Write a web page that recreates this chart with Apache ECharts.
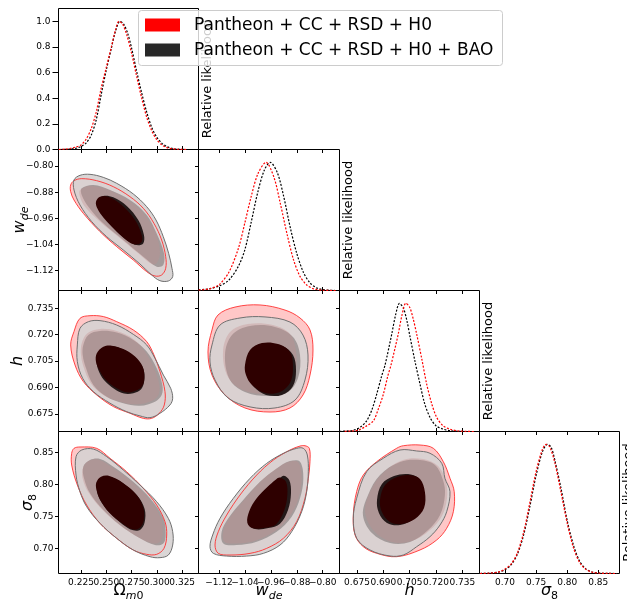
<!DOCTYPE html>
<html>
<head>
<meta charset="utf-8">
<script src="https://cdn.jsdelivr.net/npm/echarts@6/dist/echarts.min.js"></script>
<style>
  html, body { margin: 0; padding: 0; background: #ffffff; }
  #chart { width: 627px; height: 604px; }
</style>
</head>
<body>
<div id="chart"></div>
<script>
// ---------- tick values ----------
const omegaTicks = [0.225, 0.250, 0.275, 0.300, 0.325];
const wdeTicks = [-1.12, -1.04, -0.96, -0.88, -0.80];
const hTicks = [0.675, 0.690, 0.705, 0.720, 0.735];
const sigmaTicks = [0.70, 0.75, 0.80, 0.85];
const likeTicks = [0.0, 0.2, 0.4, 0.6, 0.8, 1.0];

// ---------- dataset names ----------
const nameRed = 'Pantheon + CC + RSD + H0';
const nameBlack = 'Pantheon + CC + RSD + H0 + BAO';

// ---------- 1D marginal likelihoods [value, relative likelihood] ----------
const omRed = [[0.203,0],[0.210,0.004],[0.215,0.01],[0.220,0.02],[0.225,0.035],[0.230,0.08],[0.235,0.16],[0.240,0.29],[0.245,0.48],[0.250,0.64],[0.255,0.80],[0.259,0.93],[0.2625,1.0],[0.266,0.98],[0.270,0.90],[0.275,0.75],[0.280,0.57],[0.285,0.40],[0.290,0.25],[0.295,0.145],[0.300,0.075],[0.305,0.035],[0.310,0.015],[0.315,0.006],[0.320,0.002],[0.330,0]];
const omBlack = [[0.205,0],[0.212,0.002],[0.218,0.007],[0.222,0.014],[0.226,0.028],[0.230,0.05],[0.235,0.11],[0.240,0.23],[0.245,0.43],[0.250,0.62],[0.255,0.79],[0.259,0.92],[0.2635,1.0],[0.267,0.98],[0.271,0.91],[0.275,0.79],[0.280,0.61],[0.285,0.44],[0.290,0.29],[0.295,0.17],[0.300,0.095],[0.305,0.048],[0.310,0.022],[0.315,0.009],[0.320,0.003],[0.328,0]];
const wRed = [[-1.183,0.004],[-1.15,0.013],[-1.12,0.045],[-1.09,0.14],[-1.06,0.33],[-1.04,0.53],[-1.02,0.74],[-1.00,0.91],[-0.975,1.0],[-0.95,0.88],[-0.93,0.67],[-0.91,0.44],[-0.89,0.24],[-0.87,0.11],[-0.85,0.045],[-0.83,0.015],[-0.80,0.002],[-0.76,0]];
const wBlack = [[-1.183,0.005],[-1.15,0.013],[-1.12,0.035],[-1.09,0.08],[-1.06,0.19],[-1.04,0.32],[-1.02,0.54],[-1.00,0.77],[-0.98,0.94],[-0.962,1.0],[-0.94,0.92],[-0.92,0.73],[-0.90,0.49],[-0.88,0.29],[-0.86,0.145],[-0.84,0.062],[-0.82,0.022],[-0.80,0.007],[-0.76,0]];
const hRed = [[0.668,0.001],[0.672,0.004],[0.6757,0.01],[0.680,0.04],[0.6843,0.083],[0.687,0.17],[0.690,0.29],[0.6925,0.43],[0.6944,0.52],[0.6985,0.76],[0.7005,0.9],[0.7028,1.0],[0.705,0.97],[0.707,0.88],[0.709,0.76],[0.712,0.56],[0.7147,0.37],[0.7175,0.22],[0.7204,0.11],[0.724,0.045],[0.728,0.018],[0.732,0.006],[0.737,0.001],[0.742,0]];
const hBlack = [[0.665,0.001],[0.669,0.004],[0.673,0.01],[0.677,0.035],[0.6805,0.083],[0.6835,0.17],[0.6862,0.29],[0.689,0.43],[0.691,0.52],[0.6948,0.76],[0.697,0.91],[0.6992,1.0],[0.7015,0.96],[0.7035,0.86],[0.7052,0.74],[0.708,0.55],[0.7109,0.37],[0.7135,0.22],[0.7166,0.11],[0.720,0.045],[0.7242,0.018],[0.728,0.006],[0.733,0.001],[0.738,0]];
const sRed = [[0.66,0],[0.675,0.003],[0.69,0.012],[0.70,0.035],[0.71,0.075],[0.72,0.16],[0.73,0.32],[0.74,0.55],[0.75,0.79],[0.76,0.96],[0.766,1.0],[0.772,0.98],[0.78,0.86],[0.79,0.63],[0.80,0.39],[0.81,0.20],[0.82,0.085],[0.83,0.032],[0.84,0.011],[0.85,0.003],[0.865,0.0005],[0.88,0]];
const sBlack = [[0.66,0],[0.675,0.003],[0.69,0.011],[0.70,0.03],[0.71,0.068],[0.72,0.15],[0.73,0.30],[0.74,0.52],[0.75,0.76],[0.76,0.94],[0.768,1.0],[0.774,0.98],[0.78,0.88],[0.79,0.66],[0.80,0.41],[0.81,0.22],[0.82,0.095],[0.83,0.036],[0.84,0.012],[0.85,0.004],[0.865,0.0008],[0.88,0]];

// ---------- 2D credible regions, outline vertices [x, y] ----------
// Omega_m0 vs w_de
const omW_redOuter = [[0.2148,-0.8581],[0.2181,-0.8449],[0.2257,-0.8387],[0.2405,-0.8449],[0.2569,-0.8632],[0.2734,-0.8938],[0.2866,-0.9295],[0.2971,-0.9753],[0.3047,-1.0263],[0.3087,-1.0773],[0.3087,-1.1129],[0.3047,-1.1333],[0.2981,-1.1364],[0.2899,-1.1231],[0.2767,-1.0875],[0.2603,-1.0467],[0.2438,-1.0008],[0.2273,-0.9448],[0.2181,-0.9040],[0.2148,-0.8785]];
const omW_blkOuter = [[0.2181,-0.8428],[0.2240,-0.8285],[0.2339,-0.8255],[0.2470,-0.8347],[0.2603,-0.8530],[0.2767,-0.8856],[0.2899,-0.9244],[0.2991,-0.9651],[0.3063,-1.0161],[0.3116,-1.0671],[0.3149,-1.1129],[0.3156,-1.1384],[0.3113,-1.1517],[0.3030,-1.1507],[0.2948,-1.1333],[0.2833,-1.0997],[0.2668,-1.0569],[0.2504,-1.0161],[0.2356,-0.9702],[0.2240,-0.9193],[0.2181,-0.8734]];
const omW_redMid = [[0.2240,-0.8734],[0.2339,-0.8612],[0.2504,-0.8714],[0.2702,-0.9019],[0.2866,-0.9448],[0.2981,-1.0008],[0.3030,-1.0620],[0.2997,-1.0977],[0.2948,-1.0997],[0.2816,-1.0671],[0.2619,-1.0161],[0.2438,-0.9702],[0.2289,-0.9244],[0.2240,-0.8938]];
const omW_blkMid = [[0.2257,-0.8683],[0.2372,-0.8581],[0.2537,-0.8734],[0.2734,-0.9040],[0.2899,-0.9498],[0.2997,-1.0059],[0.3070,-1.0671],[0.3063,-1.1028],[0.2998,-1.1079],[0.2866,-1.0773],[0.2668,-1.0263],[0.2470,-0.9753],[0.2323,-0.9244],[0.2257,-0.8887]];
const omW_redInner = [[0.2398,-0.9091],[0.2438,-0.8938],[0.2520,-0.8938],[0.2652,-0.9193],[0.2784,-0.9651],[0.2850,-1.0110],[0.2850,-1.0314],[0.2806,-1.0396],[0.2734,-1.0344],[0.2603,-1.0008],[0.2477,-0.9600],[0.2411,-0.9295]];
const omW_blkInner = [[0.2421,-0.9040],[0.2470,-0.8917],[0.2569,-0.8958],[0.2702,-0.9223],[0.2816,-0.9651],[0.2872,-1.0110],[0.2866,-1.0365],[0.2816,-1.0426],[0.2751,-1.0365],[0.2619,-1.0039],[0.2497,-0.9631],[0.2431,-0.9325]];

// Omega_m0 vs h
const omH_redOuter = [[0.2240,0.7293],[0.2339,0.7308],[0.2471,0.7303],[0.2603,0.7274],[0.2767,0.7227],[0.2899,0.7161],[0.2971,0.7085],[0.3031,0.6990],[0.3080,0.6877],[0.3073,0.6801],[0.3024,0.6754],[0.2948,0.6725],[0.2866,0.6725],[0.2734,0.6754],[0.2570,0.6792],[0.2405,0.6858],[0.2273,0.6934],[0.2191,0.7028],[0.2148,0.7142],[0.2181,0.7218]];
const omH_blkOuter = [[0.2214,0.7142],[0.2240,0.7236],[0.2323,0.7274],[0.2438,0.7280],[0.2603,0.7255],[0.2767,0.7202],[0.2899,0.7142],[0.2981,0.7066],[0.3064,0.6971],[0.3136,0.6896],[0.3156,0.6839],[0.3129,0.6801],[0.3031,0.6754],[0.2932,0.6729],[0.2833,0.6739],[0.2701,0.6763],[0.2537,0.6811],[0.2372,0.6877],[0.2267,0.6952],[0.2214,0.7047]];
const omH_redMid = [[0.2257,0.7151],[0.2313,0.7208],[0.2438,0.7233],[0.2603,0.7221],[0.2767,0.7176],[0.2882,0.7104],[0.2971,0.7009],[0.3024,0.6915],[0.3014,0.6858],[0.2948,0.6824],[0.2800,0.6805],[0.2635,0.6820],[0.2471,0.6858],[0.2346,0.6925],[0.2280,0.7009],[0.2250,0.7085]];
const omH_blkMid = [[0.2273,0.7142],[0.2323,0.7199],[0.2438,0.7221],[0.2603,0.7212],[0.2767,0.7170],[0.2899,0.7104],[0.2998,0.7009],[0.3054,0.6915],[0.3047,0.6858],[0.2981,0.6820],[0.2833,0.6797],[0.2668,0.6811],[0.2504,0.6848],[0.2372,0.6915],[0.2300,0.7009],[0.2267,0.7085]];
const omH_redInner = [[0.2405,0.7094],[0.2471,0.7132],[0.2553,0.7138],[0.2668,0.7119],[0.2784,0.7076],[0.2859,0.7019],[0.2876,0.6952],[0.2850,0.6905],[0.2784,0.6881],[0.2701,0.6873],[0.2603,0.6896],[0.2497,0.6943],[0.2431,0.7000],[0.2398,0.7047]];
const omH_blkInner = [[0.2412,0.7085],[0.2471,0.7127],[0.2563,0.7134],[0.2675,0.7113],[0.2794,0.7066],[0.2866,0.7006],[0.2876,0.6943],[0.2846,0.6892],[0.2767,0.6868],[0.2675,0.6866],[0.2580,0.6892],[0.2477,0.6943],[0.2421,0.7000],[0.2405,0.7043]];

// Omega_m0 vs sigma_8
const omS_redOuter = [[0.2181,0.8568],[0.2240,0.8589],[0.2405,0.8568],[0.2537,0.8412],[0.2701,0.8203],[0.2866,0.7943],[0.2998,0.7682],[0.3080,0.7422],[0.3097,0.7214],[0.3070,0.7005],[0.2998,0.6912],[0.2899,0.6912],[0.2767,0.6979],[0.2603,0.7162],[0.2438,0.7396],[0.2306,0.7682],[0.2214,0.7995],[0.2158,0.8307],[0.2158,0.8490]];
const omS_blkOuter = [[0.2201,0.8438],[0.2257,0.8542],[0.2372,0.8557],[0.2504,0.8438],[0.2668,0.8229],[0.2833,0.7995],[0.2998,0.7734],[0.3113,0.7474],[0.3156,0.7266],[0.3156,0.7057],[0.3113,0.6901],[0.3031,0.6860],[0.2932,0.6875],[0.2767,0.6979],[0.2603,0.7162],[0.2438,0.7396],[0.2306,0.7656],[0.2240,0.7891],[0.2201,0.8151]];
const omS_redMid = [[0.2267,0.8255],[0.2326,0.8370],[0.2425,0.8391],[0.2553,0.8276],[0.2751,0.8047],[0.2915,0.7787],[0.3037,0.7484],[0.3057,0.7240],[0.3031,0.7109],[0.2958,0.7083],[0.2817,0.7178],[0.2619,0.7386],[0.2454,0.7620],[0.2326,0.7875],[0.2270,0.8073]];
const omS_blkMid = [[0.2273,0.8281],[0.2339,0.8385],[0.2438,0.8401],[0.2570,0.8281],[0.2767,0.8047],[0.2932,0.7787],[0.3064,0.7474],[0.3087,0.7214],[0.3064,0.7083],[0.2981,0.7057],[0.2833,0.7162],[0.2635,0.7370],[0.2471,0.7604],[0.2339,0.7865],[0.2280,0.8099]];
const omS_redInner = [[0.2402,0.8037],[0.2448,0.8125],[0.2530,0.8136],[0.2662,0.8031],[0.2794,0.7849],[0.2866,0.7641],[0.2869,0.7432],[0.2826,0.7318],[0.2761,0.7302],[0.2662,0.7391],[0.2533,0.7557],[0.2438,0.7766],[0.2402,0.7927]];
const omS_blkInner = [[0.2412,0.8005],[0.2464,0.8110],[0.2547,0.8115],[0.2675,0.8011],[0.2807,0.7828],[0.2879,0.7620],[0.2879,0.7412],[0.2836,0.7297],[0.2767,0.7287],[0.2662,0.7380],[0.2530,0.7568],[0.2438,0.7766],[0.2408,0.7901]];

// w_de vs h
const wH_redOuter = [[-1.1416,0.7227],[-1.1231,0.7312],[-1.0706,0.7357],[-0.9935,0.7369],[-0.9163,0.7340],[-0.8700,0.7295],[-0.8391,0.7227],[-0.8299,0.7113],[-0.8391,0.6971],[-0.8607,0.6858],[-0.9009,0.6784],[-0.9626,0.6761],[-1.0398,0.6784],[-1.1015,0.6858],[-1.1416,0.6971],[-1.1540,0.7102]];
const wH_blkOuter = [[-1.1416,0.7142],[-1.1169,0.7255],[-1.0552,0.7295],[-0.9780,0.7301],[-0.9009,0.7272],[-0.8607,0.7198],[-0.8453,0.7085],[-0.8546,0.6943],[-0.8854,0.6829],[-0.9472,0.6784],[-1.0243,0.6790],[-1.0922,0.6841],[-1.1323,0.6943],[-1.1478,0.7045]];
const wH_redMid = [[-1.1077,0.7102],[-1.0860,0.7215],[-1.0305,0.7261],[-0.9533,0.7255],[-0.9009,0.7204],[-0.8823,0.7102],[-0.8854,0.6971],[-0.9163,0.6886],[-0.9780,0.6863],[-1.0459,0.6886],[-1.0922,0.6960]];
const wH_blkMid = [[-1.1015,0.7085],[-1.0799,0.7198],[-1.0243,0.7249],[-0.9472,0.7244],[-0.8916,0.7187],[-0.8700,0.7085],[-0.8762,0.6954],[-0.9070,0.6875],[-0.9688,0.6852],[-1.0398,0.6875],[-1.0860,0.6943]];
const wH_redInner = [[-1.0398,0.7028],[-1.0243,0.7113],[-0.9873,0.7153],[-0.9379,0.7147],[-0.9009,0.7102],[-0.8916,0.7011],[-0.9009,0.6926],[-0.9317,0.6875],[-0.9780,0.6869],[-1.0181,0.6914],[-1.0367,0.6971]];
const wH_blkInner = [[-1.0305,0.7011],[-1.0151,0.7102],[-0.9749,0.7142],[-0.9256,0.7136],[-0.8916,0.7085],[-0.8823,0.7000],[-0.8916,0.6909],[-0.9256,0.6858],[-0.9749,0.6858],[-1.0120,0.6903],[-1.0274,0.6954]];

// w_de vs sigma_8
const wS_redOuter = [[-0.8700,0.8604],[-0.8546,0.8609],[-0.8412,0.8568],[-0.8392,0.8359],[-0.8443,0.8099],[-0.8546,0.7787],[-0.8803,0.7422],[-0.9214,0.7162],[-0.9729,0.7005],[-1.0243,0.6927],[-1.0861,0.6901],[-1.1221,0.6927],[-1.1323,0.7057],[-1.1221,0.7266],[-1.0963,0.7526],[-1.0552,0.7839],[-1.0037,0.8151],[-0.9523,0.8385],[-0.9009,0.8542]];
const wS_blkOuter = [[-0.8803,0.8568],[-0.8597,0.8568],[-0.8474,0.8464],[-0.8443,0.8203],[-0.8494,0.7891],[-0.8649,0.7578],[-0.8957,0.7266],[-0.9317,0.7057],[-0.9832,0.6927],[-1.0346,0.6885],[-1.0963,0.6885],[-1.1375,0.6927],[-1.1478,0.7031],[-1.1395,0.7214],[-1.1169,0.7474],[-1.0758,0.7787],[-1.0243,0.8099],[-0.9729,0.8333],[-0.9214,0.8490]];
const wS_redMid = [[-0.9040,0.8359],[-0.8752,0.8349],[-0.8649,0.8099],[-0.8752,0.7776],[-0.9029,0.7500],[-0.9472,0.7276],[-1.0089,0.7125],[-1.0655,0.7083],[-1.1035,0.7109],[-1.1066,0.7276],[-1.0881,0.7474],[-1.0480,0.7724],[-0.9935,0.8037],[-0.9441,0.8244]];
const wS_blkMid = [[-0.9009,0.8370],[-0.8700,0.8359],[-0.8597,0.8099],[-0.8700,0.7787],[-0.8957,0.7500],[-0.9420,0.7266],[-1.0037,0.7109],[-1.0655,0.7057],[-1.1066,0.7083],[-1.1118,0.7266],[-1.0912,0.7474],[-1.0500,0.7734],[-0.9935,0.8047],[-0.9420,0.8255]];
const wS_redInner = [[-0.9441,0.8083],[-0.9317,0.8110],[-0.9132,0.8047],[-0.9091,0.7839],[-0.9194,0.7589],[-0.9441,0.7380],[-0.9780,0.7328],[-1.0161,0.7318],[-1.0326,0.7406],[-1.0264,0.7589],[-1.0037,0.7787],[-0.9708,0.7964]];
const wS_blkInner = [[-0.9338,0.8099],[-0.9194,0.8141],[-0.9029,0.8068],[-0.8978,0.7865],[-0.9070,0.7604],[-0.9317,0.7391],[-0.9677,0.7323],[-1.0089,0.7307],[-1.0284,0.7386],[-1.0223,0.7568],[-0.9986,0.7776],[-0.9626,0.7964]];

// h vs sigma_8
const hS_redOuter = [[0.7014,0.8609],[0.7109,0.8620],[0.7185,0.8569],[0.7242,0.8359],[0.7280,0.8100],[0.7304,0.7891],[0.7299,0.7578],[0.7261,0.7319],[0.7204,0.7136],[0.7109,0.6980],[0.6976,0.6875],[0.6862,0.6928],[0.6786,0.7031],[0.6739,0.7214],[0.6729,0.7527],[0.6748,0.7891],[0.6786,0.8152],[0.6862,0.8359],[0.6976,0.8569]];
const hS_blkOuter = [[0.6995,0.8542],[0.7090,0.8527],[0.7166,0.8491],[0.7233,0.8334],[0.7251,0.8100],[0.7280,0.7891],[0.7261,0.7578],[0.7223,0.7370],[0.7166,0.7188],[0.7090,0.7031],[0.7014,0.6902],[0.6938,0.6886],[0.6824,0.6980],[0.6748,0.7163],[0.6729,0.7475],[0.6748,0.7788],[0.6805,0.8203],[0.6900,0.8413]];
const hS_redMid = [[0.6796,0.7573],[0.6824,0.7886],[0.6898,0.8183],[0.7012,0.8386],[0.7126,0.8402],[0.7212,0.8292],[0.7257,0.8042],[0.7263,0.7792],[0.7234,0.7511],[0.7166,0.7292],[0.7063,0.7120],[0.6949,0.7105],[0.6847,0.7277]];
const hS_blkMid = [[0.6784,0.7527],[0.6813,0.7839],[0.6881,0.8152],[0.6995,0.8355],[0.7109,0.8386],[0.7194,0.8308],[0.7240,0.8073],[0.7251,0.7839],[0.7223,0.7527],[0.7155,0.7292],[0.7052,0.7105],[0.6938,0.7089],[0.6835,0.7245]];
const hS_redInner = [[0.6881,0.7761],[0.6910,0.7995],[0.6978,0.8120],[0.7052,0.8152],[0.7109,0.8089],[0.7137,0.7886],[0.7132,0.7636],[0.7080,0.7464],[0.7006,0.7386],[0.6938,0.7417],[0.6892,0.7573]];
const hS_blkInner = [[0.6864,0.7761],[0.6892,0.8011],[0.6961,0.8136],[0.7041,0.8167],[0.7098,0.8105],[0.7126,0.7902],[0.7120,0.7652],[0.7069,0.7464],[0.6995,0.7370],[0.6921,0.7402],[0.6875,0.7558]];

// ---------- layout & styling ----------
const FONT = 'DejaVu Sans';
const colLeft = [58.5, 198.5, 339.5, 479.5];
const colWidth = [140, 141, 140, 140];
const rowTop = [8.5, 149.5, 290.5, 431.5];
const rowHeight = [141, 141, 141, 142];

const params = {
  om: { ticks: omegaTicks, dec: 3, colRange: [0.20277, 0.34111] },
  w:  { ticks: wdeTicks, dec: 2, colRange: [-1.18327, -0.74809], rowRange: [-1.18073, -0.74954] },
  h:  { ticks: hTicks, dec: 3, colRange: [0.66503, 0.74480], rowRange: [0.66504, 0.74511] },
  s8: { ticks: sigmaTicks, dec: 2, colRange: [0.65900, 0.88408], rowRange: [0.66125, 0.88313] }
};
const order = ['om', 'w', 'h', 's8'];

function fmt(dec) {
  return function (v) { return Number(v).toFixed(dec).replace('-', '\u2212'); };
}
const tickLabelStyle = {
  fontSize: 9, fontFamily: FONT, color: '#000', interval: 0,
  hideOverlap: false, showMinLabel: true, showMaxLabel: true
};
const everyOther = function (arr, parity) { return arr.filter(function (v, i) { return i % 2 === parity; }); };

const grids = [], xAxes = [], yAxes = [], series = [];
const cells = {};

for (let r = 0; r < 4; r++) {
  for (let c = 0; c <= r; c++) {
    const g = grids.length;
    grids.push({
      left: colLeft[c], top: rowTop[r], width: colWidth[c], height: rowHeight[r],
      show: true, borderColor: '#000', borderWidth: 1, backgroundColor: 'transparent',
      containLabel: false, outerBoundsMode: 'none'
    });
    const xp = params[order[c]];
    const xi = xAxes.length;
    // bottom axis: all ticks; on the last row it carries every other label,
    // and a twin axis carries the rest so touching labels are all kept
    xAxes.push({
      type: 'value', gridIndex: g, position: 'bottom',
      min: xp.colRange[0], max: xp.colRange[1],
      axisLine: { show: false }, splitLine: { show: false },
      axisTick: { show: true, inside: true, length: 3.5, interval: 0, customValues: xp.ticks, lineStyle: { color: '#000', width: 1 } },
      axisLabel: Object.assign({ show: r === 3, customValues: everyOther(xp.ticks, 0), formatter: fmt(xp.dec), margin: 5 }, tickLabelStyle)
    });
    if (r === 3) {
      xAxes.push({
        type: 'value', gridIndex: g, position: 'bottom',
        min: xp.colRange[0], max: xp.colRange[1],
        axisLine: { show: false }, splitLine: { show: false }, axisTick: { show: false },
        axisLabel: Object.assign({ show: true, customValues: everyOther(xp.ticks, 1), formatter: fmt(xp.dec), margin: 5 }, tickLabelStyle)
      });
    }
    if (r > 0) {
      xAxes.push({
        type: 'value', gridIndex: g, position: 'top',
        min: xp.colRange[0], max: xp.colRange[1],
        axisLine: { show: false }, splitLine: { show: false },
        axisTick: { show: true, inside: true, length: 3.5, interval: 0, customValues: xp.ticks, lineStyle: { color: '#000', width: 1 } },
        axisLabel: { show: false }
      });
    }
    const yi = yAxes.length;
    if (r === 0) {
      yAxes.push({
        type: 'value', gridIndex: g, position: 'left', min: 0, max: 1.1,
        axisLine: { show: false }, splitLine: { show: false },
        axisTick: { show: true, inside: false, length: 6, interval: 0, customValues: likeTicks, lineStyle: { color: '#000', width: 1 } },
        axisLabel: Object.assign({ show: true, customValues: likeTicks, formatter: fmt(1), margin: 8 }, tickLabelStyle)
      });
    } else {
      const yp = params[order[r]];
      yAxes.push({
        type: 'value', gridIndex: g, position: 'left',
        min: yp.rowRange[0], max: yp.rowRange[1],
        axisLine: { show: false }, splitLine: { show: false },
        axisTick: { show: true, inside: false, length: 3.5, interval: 0, customValues: yp.ticks, lineStyle: { color: '#000', width: 1 } },
        axisLabel: Object.assign({ show: c === 0, customValues: yp.ticks, formatter: fmt(yp.dec), margin: 5 }, tickLabelStyle)
      });
    }
    let yd = null;
    if (r === c) {
      yd = yAxes.length;
      yAxes.push({
        type: 'value', gridIndex: g, position: 'right', min: 0, max: 1.1,
        axisLine: { show: false }, axisTick: { show: false }, axisLabel: { show: false }, splitLine: { show: false },
        name: 'Relative likelihood', nameLocation: 'middle', nameRotate: 90, nameGap: 3,
        nameTextStyle: { fontSize: 13, fontFamily: FONT, color: '#000' }
      });
    }
    cells[r + ',' + c] = { xi: xi, yi: yi, yd: yd };
  }
}

// ---------- diagonal: marginal likelihood curves ----------
const diag = [
  { k: 0, red: omRed, black: omBlack },
  { k: 1, red: wRed, black: wBlack },
  { k: 2, red: hRed, black: hBlack },
  { k: 3, red: sRed, black: sBlack }
];
diag.forEach(function (d) {
  const cell = cells[d.k + ',' + d.k];
  [[nameBlack, d.black, '#000000'], [nameRed, d.red, '#ff0000']].forEach(function (s) {
    series.push({
      type: 'line', name: s[0], xAxisIndex: cell.xi, yAxisIndex: cell.yd,
      data: s[1], smooth: 0.3, symbol: 'none', silent: true, z: 4,
      lineStyle: { color: s[2], width: 1.2, type: [2, 1.6] }
    });
  });
});

// ---------- lower triangle: filled credible regions ----------
const fills = {
  redOuter: { fill: 'rgba(255,0,0,0.22)' },
  blkOuter: { fill: 'rgba(214,209,209,0.9)' },
  blkMid:   { fill: 'rgba(160,150,150,0.92)' },
  redMid:   { fill: 'rgba(195,140,140,0.35)' },
  blkInner: { fill: 'rgb(36,24,24)' },
  redInner: { fill: 'rgb(46,0,0)' },
  redLine:  { fill: 'none', stroke: 'rgba(255,40,40,0.85)', lineWidth: 1 },
  blkLine:  { fill: 'none', stroke: '#707070', lineWidth: 1 }
};

function regionSeries(name, points, cell, style, z) {
  return {
    type: 'custom', name: name, xAxisIndex: cell.xi, yAxisIndex: cell.yi,
    data: points, silent: true, clip: true, z: z,
    renderItem: function (params, api) {
      if (params.dataIndex !== 0) return null;
      return {
        type: 'polygon',
        shape: { points: points.map(function (p) { return api.coord(p); }), smooth: 0.35 },
        style: Object.assign({}, style)
      };
    }
  };
}

const lower = [
  { r: 1, c: 0, red: [omW_redOuter, omW_redMid, omW_redInner], black: [omW_blkOuter, omW_blkMid, omW_blkInner] },
  { r: 2, c: 0, red: [omH_redOuter, omH_redMid, omH_redInner], black: [omH_blkOuter, omH_blkMid, omH_blkInner] },
  { r: 3, c: 0, red: [omS_redOuter, omS_redMid, omS_redInner], black: [omS_blkOuter, omS_blkMid, omS_blkInner] },
  { r: 2, c: 1, red: [wH_redOuter, wH_redMid, wH_redInner], black: [wH_blkOuter, wH_blkMid, wH_blkInner] },
  { r: 3, c: 1, red: [wS_redOuter, wS_redMid, wS_redInner], black: [wS_blkOuter, wS_blkMid, wS_blkInner] },
  { r: 3, c: 2, red: [hS_redOuter, hS_redMid, hS_redInner], black: [hS_blkOuter, hS_blkMid, hS_blkInner] }
];
lower.forEach(function (p) {
  const cell = cells[p.r + ',' + p.c];
  series.push(regionSeries(nameRed, p.red[0], cell, fills.redOuter, 2));
  series.push(regionSeries(nameBlack, p.black[0], cell, fills.blkOuter, 2));
  series.push(regionSeries(nameBlack, p.black[1], cell, fills.blkMid, 2));
  series.push(regionSeries(nameRed, p.red[1], cell, fills.redMid, 2));
  series.push(regionSeries(nameBlack, p.black[2], cell, fills.blkInner, 2));
  series.push(regionSeries(nameRed, p.red[2], cell, fills.redInner, 2));
  series.push(regionSeries(nameRed, p.red[0], cell, fills.redLine, 3));
  series.push(regionSeries(nameBlack, p.black[0], cell, fills.blkLine, 3));
});

// ---------- parameter labels (math-style) ----------
const mathRich = {
  up:  { fontSize: 16, fontFamily: FONT, color: '#000', padding: [0, 0, 3, 0], verticalAlign: 'bottom' },
  it:  { fontSize: 16, fontFamily: FONT, fontStyle: 'italic', color: '#000', padding: [0, 0, 3, 0], verticalAlign: 'bottom' },
  sit: { fontSize: 11, fontFamily: FONT, fontStyle: 'italic', color: '#000', verticalAlign: 'bottom' },
  sup: { fontSize: 11, fontFamily: FONT, color: '#000', verticalAlign: 'bottom' }
};
const labelText = {
  om: '{up|\u03A9}{sit|m}{sup|0}',
  w: '{it|w}{sit|de}',
  h: '{it|h}',
  s8: '{it|\u03C3}{sup|8}'
};
function mathLabel(key, x, y, rot) {
  return {
    type: 'text', x: x, y: y, rotation: rot, z: 50, silent: true,
    style: {
      text: labelText[key], rich: mathRich,
      align: 'center', verticalAlign: 'middle',
      textAlign: 'center', textVerticalAlign: 'middle'
    }
  };
}

const graphic = [
  mathLabel('om', 128.5, 592, 0),
  mathLabel('w', 269, 592, 0),
  mathLabel('h', 409.5, 592, 0),
  mathLabel('s8', 549.5, 592, 0),
  mathLabel('w', 21, 220, Math.PI / 2),
  mathLabel('h', 19.5, 361, Math.PI / 2),
  mathLabel('s8', 29, 502.5, Math.PI / 2),
  // legend box
  { type: 'rect', z: 100, silent: true,
    shape: { x: 138.5, y: 10.5, width: 364, height: 55, r: 3 },
    style: { fill: 'rgba(255,255,255,0.8)', stroke: '#cccccc', lineWidth: 1 } },
  { type: 'rect', z: 101, silent: true,
    shape: { x: 145, y: 18.5, width: 35, height: 13 },
    style: { fill: '#ff0000' } },
  { type: 'rect', z: 101, silent: true,
    shape: { x: 145, y: 43.5, width: 35, height: 13 },
    style: { fill: '#282828' } },
  { type: 'text', z: 101, x: 194, y: 25.5, silent: true,
    style: { text: nameRed, fontSize: 17, fontFamily: FONT, fill: '#000',
             align: 'left', verticalAlign: 'middle', textAlign: 'left', textVerticalAlign: 'middle' } },
  { type: 'text', z: 101, x: 194, y: 50.5, silent: true,
    style: { text: nameBlack, fontSize: 17, fontFamily: FONT, fill: '#000',
             align: 'left', verticalAlign: 'middle', textAlign: 'left', textVerticalAlign: 'middle' } }
];

const chart = echarts.init(document.getElementById('chart'), null, { renderer: 'canvas' });
chart.setOption({
  animation: false,
  backgroundColor: '#ffffff',
  grid: grids,
  xAxis: xAxes,
  yAxis: yAxes,
  series: series,
  graphic: graphic
});
</script>
</body>
</html>
